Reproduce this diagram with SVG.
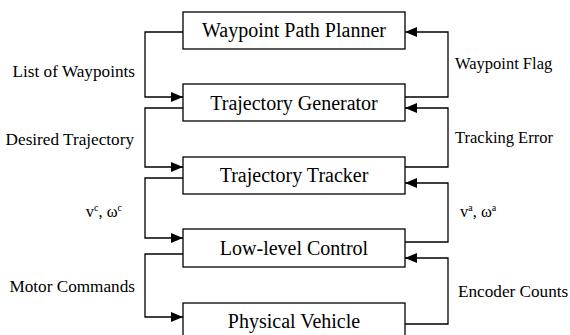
<svg xmlns="http://www.w3.org/2000/svg" width="570" height="335" viewBox="0 0 570 335">
<defs>
<marker id="arr" markerUnits="userSpaceOnUse" markerWidth="12" markerHeight="10" refX="12" refY="5" orient="auto">
<path d="M0,0 L12,5 L0,10 z" fill="#000"/>
</marker>
<style>
.box{fill:#fff;stroke:#000;stroke-width:1.3}
.bt{font-size:20px;text-anchor:middle;fill:#000}
.lb{font-size:16.5px;fill:#000}
.ll{font-size:17.2px}
.c{fill:none;stroke:#000;stroke-width:1.3;marker-end:url(#arr)}
.sup{font-size:10px}
</style>
</defs>
<rect width="570" height="335" fill="#fff"/>
<g id="connectors">
<path class="c" d="M183,32 H145 V97 H183"/>
<path class="c" d="M183,108 H145 V167 H183"/>
<path class="c" d="M183,178 H145 V238 H183"/>
<path class="c" d="M183,254 H145 V317 H183"/>
<path class="c" d="M405,97 H448 V32 H405"/>
<path class="c" d="M405,167 H448 V108 H405"/>
<path class="c" d="M405,242 H448 V183 H405"/>
<path class="c" d="M405,324 H448 V258 H405"/>
</g>
<g font-family="'Liberation Serif', 'Times New Roman', 'DejaVu Serif', serif">
<g id="planner"><rect class="box" x="183" y="12" width="222" height="37"/><text class="bt" x="294" y="37">Waypoint Path Planner</text></g>
<g id="generator"><rect class="box" x="183" y="84" width="222" height="37"/><text class="bt" x="294" y="110">Trajectory Generator</text></g>
<g id="tracker"><rect class="box" x="183" y="157" width="222" height="37"/><text class="bt" x="294" y="182">Trajectory Tracker</text></g>
<g id="lowlevel"><rect class="box" x="183" y="229" width="222" height="38"/><text class="bt" x="294" y="255">Low-level Control</text></g>
<g id="vehicle"><rect class="box" x="183" y="303" width="222" height="40"/><text class="bt" x="294" y="328">Physical Vehicle</text></g>
<g id="labels">
<text class="lb ll" x="135" y="77" text-anchor="end">List of Waypoints</text>
<text class="lb ll" x="134" y="145" text-anchor="end">Desired Trajectory</text>
<text class="lb" x="122" y="217" text-anchor="end">v<tspan class="sup" dy="-6">c</tspan><tspan dy="6">, ω</tspan><tspan class="sup" dy="-6">c</tspan></text>
<text class="lb ll" x="135" y="292" text-anchor="end">Motor Commands</text>
<text class="lb" x="455" y="69">Waypoint Flag</text>
<text class="lb" x="455" y="143">Tracking Error</text>
<text class="lb" x="460" y="217">v<tspan class="sup" dy="-6">a</tspan><tspan dy="6">, ω</tspan><tspan class="sup" dy="-6">a</tspan></text>
<text class="lb ll" x="458" y="297">Encoder Counts</text>
</g>
</g>
</svg>
